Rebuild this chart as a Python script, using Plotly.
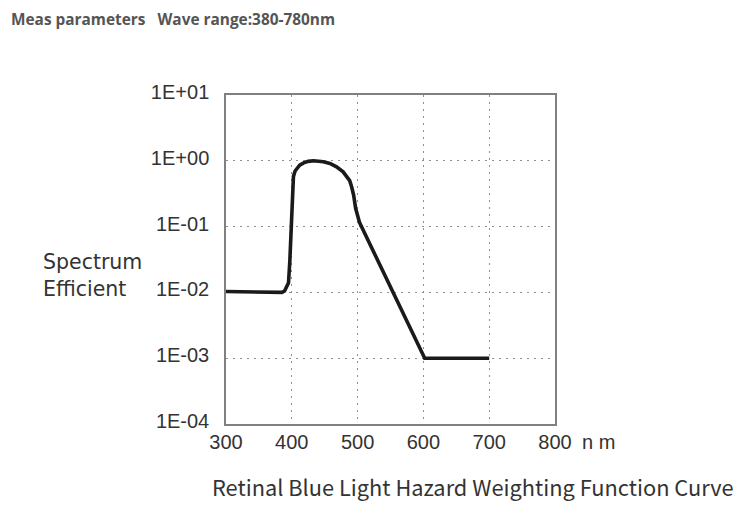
import plotly.graph_objects as go

# ---- data ----
wavelength_nm = [300, 385, 389, 392, 395, 397, 399.5, 401, 402.5, 405, 408, 412, 418, 425,
                 433, 440, 448, 458, 468, 478, 484, 488, 491, 494, 497, 500, 503, 602, 700]
efficiency = [0.0103, 0.0100, 0.0105, 0.0120, 0.014, 0.030, 0.10, 0.35, 0.58, 0.70, 0.77,
              0.86, 0.93, 0.98, 1.0, 1.0, 0.97, 0.91, 0.81, 0.68, 0.58, 0.50, 0.40, 0.30,
              0.19, 0.14, 0.115, 0.001, 0.001]

x_ticks = [300, 400, 500, 600, 700, 800]
y_ticks = [1e-4, 1e-3, 1e-2, 1e-1, 1e0, 1e1]
y_tick_labels = ["1E-04", "1E-03", "1E-02", "1E-01", "1E+00", "1E+01"]

title_text = "Meas parameters&nbsp;&nbsp;&nbsp;Wave range:380-780nm"
caption_text = "Retinal Blue Light Hazard Weighting Function Curve"
y_title_text = "Spectrum<br>Efficient"
x_unit_text = "n m"

# ---- layout geometry (page body has an 8px margin) ----
OFF = 8
W, H = 755 - OFF, 505 - OFF
L, T = 226 - OFF, 95 - OFF
PW, PH = 329, 329
R, B = W - L - PW, H - T - PH

def px(p):
    return (p - OFF - L) / PW

def py(p):
    return (T + PH - (p - OFF)) / PH

fig = go.Figure()
fig.add_trace(go.Scatter(
    x=wavelength_nm, y=efficiency, mode="lines",
    line=dict(color="#1a1a1a", width=3.6, shape="linear"),
    hoverinfo="skip", showlegend=False,
))

tick_font = dict(family="Liberation Sans, Arial, sans-serif", size=20, color="#333333")
grid_dash = "2px,5px"

fig.update_xaxes(
    range=[300, 800], tickvals=x_ticks, ticks="", tickfont=tick_font,
    showgrid=True, gridcolor="#8f8f8f", gridwidth=1.2, griddash=grid_dash,
    showline=True, linecolor="#808080", linewidth=1.5, mirror=True,
    zeroline=False, ticklabelstandoff=-1,
)
fig.update_yaxes(
    type="log", range=[-4, 1], tickvals=y_ticks, ticktext=y_tick_labels,
    ticks="", tickfont=tick_font,
    showgrid=True, gridcolor="#8f8f8f", gridwidth=1.2, griddash=grid_dash,
    showline=True, linecolor="#808080", linewidth=1.5, mirror=True,
    zeroline=False, ticklabelstandoff=11, ticklabelshift=-3,
)

annotations = [
    dict(text="<b>" + title_text + "</b>", xref="paper", yref="paper",
         x=px(9), y=py(19), xanchor="left", yanchor="middle", showarrow=False,
         font=dict(family="Open Sans, Noto Sans, sans-serif", size=15.4, color="#555555")),
    dict(text=caption_text, xref="paper", yref="paper",
         x=px(210), y=py(486), xanchor="left", yanchor="middle", showarrow=False,
         font=dict(family="Noto Sans CJK SC, Noto Sans, sans-serif", size=21.8, color="#333333")),
    dict(text=y_title_text, xref="paper", yref="paper",
         x=px(41), y=py(275), xanchor="left", yanchor="middle", showarrow=False, align="left",
         font=dict(family="DejaVu Sans, sans-serif", size=20.5, color="#333333")),
    dict(text=x_unit_text, xref="paper", yref="paper",
         x=px(580), y=py(442), xanchor="left", yanchor="middle", showarrow=False,
         font=dict(family="Liberation Sans, Arial, sans-serif", size=20, color="#333333")),
]

fig.update_layout(
    width=W, height=H, margin=dict(l=L, r=R, t=T, b=B),
    paper_bgcolor="white", plot_bgcolor="white",
    annotations=annotations, showlegend=False,
)

fig.write_html("out.html")
